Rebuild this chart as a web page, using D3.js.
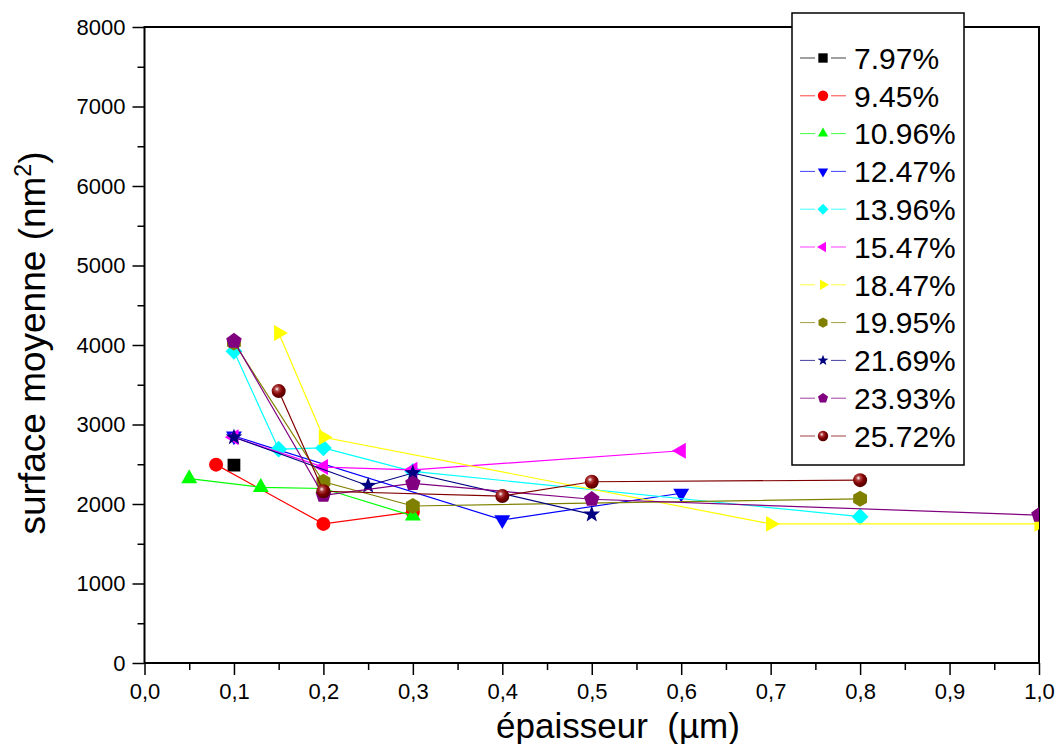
<!DOCTYPE html>
<html><head><meta charset="utf-8">
<script src="https://cdn.jsdelivr.net/npm/d3@7"></script>
<style>
body{margin:0;background:#fff;}
text{font-family:"Liberation Sans",Arial,sans-serif;fill:#000;}
</style></head>
<body><svg id="c" width="1057" height="744"></svg>
<script>
// ---- data ----
const categories = ["7.97%","9.45%","10.96%","12.47%","13.96%","15.47%","18.47%","19.95%","21.69%","23.93%","25.72%"];
const colors = ["#000000","#ff0000","#00ff00","#0000ff","#00ffff","#ff00ff","#ffff00","#808000","#000080","#800080","#800000"];
const shapes = ["square","circle","triUp","triDown","diamond","triLeft","triRight","hexagon","star","pentagon","sphere"];
const x797 = [0.1];                    const y797 = [2490];
const x945 = [0.08,0.2,0.3];           const y945 = [2495,1750,1900];
const x1096 = [0.05,0.13,0.2,0.3];     const y1096 = [2320,2210,2195,1850];
const x1247 = [0.1,0.4,0.6];           const y1247 = [2855,1800,2135];
const x1396 = [0.1,0.15,0.2,0.3,0.8];  const y1396 = [3920,2690,2705,2410,1840];
const x1547 = [0.1,0.2,0.3,0.6];       const y1547 = [2840,2465,2430,2670];
const x1847 = [0.15,0.2,0.7,1.0];      const y1847 = [4150,2840,1750,1750];
const x1995 = [0.1,0.2,0.3,0.8];       const y1995 = [4030,2280,1975,2065];
const x2169 = [0.1,0.25,0.3,0.5];      const y2169 = [2840,2230,2390,1870];
const x2393 = [0.1,0.2,0.3,0.5,1.0];   const y2393 = [4050,2110,2260,2060,1860];
const x2572 = [0.15,0.2,0.4,0.5,0.8];  const y2572 = [3420,2160,2100,2280,2300];
const xTicks = [0,0.1,0.2,0.3,0.4,0.5,0.6,0.7,0.8,0.9,1.0];
const yTicks = [0,1000,2000,3000,4000,5000,6000,7000,8000];
const xsAll = [x797,x945,x1096,x1247,x1396,x1547,x1847,x1995,x2169,x2393,x2572];
const ysAll = [y797,y945,y1096,y1247,y1396,y1547,y1847,y1995,y2169,y2393,y2572];
const series = categories.map((c,i)=>({name:c,color:colors[i],shape:shapes[i],
  pts:xsAll[i].map((v,j)=>({x:v,y:ysAll[i][j]}))}));

// ---- layout ----
const L=144.5, R=1039, T=27, B=663;
const svg = d3.select("#c");
const x = d3.scaleLinear().domain([0,1]).range([L,R]);
const y = d3.scaleLinear().domain([0,8000]).range([B,T]);

const defs = svg.append("defs");
defs.append("clipPath").attr("id","clip").append("rect")
  .attr("x",L).attr("y",T).attr("width",R-L).attr("height",B-T);
const g = defs.append("radialGradient").attr("id","sph").attr("cx","0.38").attr("cy","0.35").attr("r","0.65");
g.append("stop").attr("offset","0").attr("stop-color","#ffffff");
g.append("stop").attr("offset","0.25").attr("stop-color","#b04040");
g.append("stop").attr("offset","0.6").attr("stop-color","#800000");
g.append("stop").attr("offset","1").attr("stop-color","#500000");

function shapePath(type,r){
  const poly = (n,rot,rr)=>{let p=[];for(let k=0;k<n;k++){const a=rot+k*2*Math.PI/n;p.push([rr*Math.cos(a),rr*Math.sin(a)]);}return "M"+p.map(q=>q.join(",")).join("L")+"Z";};
  switch(type){
    case "square": return `M${-r*0.85},${-r*0.85}H${r*0.85}V${r*0.85}H${-r*0.85}Z`;
    case "circle": case "sphere": return d3.arc()({innerRadius:0,outerRadius:r,startAngle:0,endAngle:2*Math.PI});
    case "triUp": return poly(3,-Math.PI/2,r*1.15);
    case "triDown": return poly(3,Math.PI/2,r*1.15);
    case "triLeft": return poly(3,Math.PI,r*1.15);
    case "triRight": return poly(3,0,r*1.15);
    case "diamond": return poly(4,-Math.PI/2,r*1.05);
    case "hexagon": return poly(6,-Math.PI/2,r);
    case "pentagon": return poly(5,-Math.PI/2,r*1.02);
    case "star": {let p=[];for(let k=0;k<10;k++){const a=-Math.PI/2+k*Math.PI/5;const rr=k%2?r*0.45:r*1.1;p.push([rr*Math.cos(a),rr*Math.sin(a)]);}return "M"+p.map(q=>q.join(",")).join("L")+"Z";}
  }
}

// ---- axes ----
const yAx = svg.append("g").attr("transform",`translate(${L},0)`)
  .call(d3.axisLeft(y).tickValues(yTicks).tickSize(12).tickPadding(7).tickFormat(d3.format("d")));
const yMin = svg.append("g").attr("transform",`translate(${L},0)`)
  .call(d3.axisLeft(y).tickValues(d3.range(500,8000,1000)).tickSize(7).tickFormat(""));
const xAx = svg.append("g").attr("transform",`translate(0,${B})`)
  .call(d3.axisBottom(x).tickValues(xTicks).tickSize(12).tickPadding(8).tickFormat(d=>d3.format(".1f")(d).replace(".",",")));
const xMin = svg.append("g").attr("transform",`translate(0,${B})`)
  .call(d3.axisBottom(x).tickValues(d3.range(0.05,1,0.1)).tickSize(7).tickFormat(""));
[yAx,yMin,xAx,xMin].forEach(a=>{a.select(".domain").remove();a.selectAll("line").attr("stroke-width",1.5);});
yAx.selectAll("text").style("font-size","22px").style("font-family","'Liberation Sans',Arial");
xAx.selectAll("text").style("font-size","22px").style("font-family","'Liberation Sans',Arial");

// frame
svg.append("rect").attr("x",L).attr("y",T).attr("width",R-L).attr("height",B-T)
  .attr("fill","none").attr("stroke","#000").attr("stroke-width",2);

// titles
svg.append("text").attr("x",618).attr("y",738).attr("text-anchor","middle")
  .style("font-size","35px").style("white-space","pre").text("épaisseur\u00a0 (µm)");
const yt = svg.append("text").attr("transform","translate(45,343) rotate(-90)").attr("text-anchor","middle")
  .style("font-size","37px");
yt.append("tspan").text("surface moyenne (nm");
yt.append("tspan").attr("dy","-14").style("font-size","23px").text("2");
yt.append("tspan").attr("dy","14").text(")");

// ---- series ----
const plot = svg.append("g").attr("clip-path","url(#clip)");
const line = d3.line().x(d=>x(d.x)).y(d=>y(d.y));
series.forEach(s=>{
  const gs = plot.append("g");
  gs.append("path").attr("d",line(s.pts)).attr("fill","none").attr("stroke",s.color).attr("stroke-width",1.2);
  gs.selectAll("path.m").data(s.pts).join("path").attr("class","m")
    .attr("transform",d=>`translate(${x(d.x)},${y(d.y)})`)
    .attr("d",shapePath(s.shape, s.shape==="square"?7.5:(s.shape==="circle"||s.shape==="sphere"?7:8)))
    .attr("fill",s.shape==="sphere"?"url(#sph)":s.color);
});

// ---- legend ----
const lg = svg.append("g");
lg.append("rect").attr("x",792).attr("y",13).attr("width",172).attr("height",452)
  .attr("fill","#fff").attr("stroke","#000").attr("stroke-width",1.5);
series.forEach((s,i)=>{
  const cy = 58 + i*37.8;
  lg.append("line").attr("x1",800).attr("x2",846).attr("y1",cy).attr("y2",cy)
    .attr("stroke",s.color).attr("stroke-width",1).attr("stroke-opacity",0.75);
  lg.append("rect").attr("x",815).attr("y",cy-6).attr("width",16).attr("height",12).attr("fill","#fff");
  lg.append("path").attr("transform",`translate(823,${cy})`)
    .attr("d",shapePath(s.shape, s.shape==="square"?5.5:5.2))
    .attr("fill",s.shape==="sphere"?"url(#sph)":s.color);
  lg.append("text").attr("x",854).attr("y",cy).attr("dy","0.36em").style("font-size","30px").text(s.name);
});
</script>
</body></html>
